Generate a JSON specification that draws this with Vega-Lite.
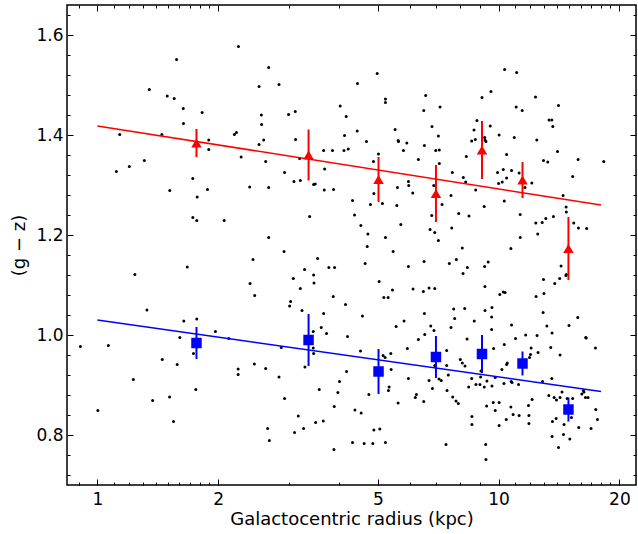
{
  "$schema": "https://vega.github.io/schema/vega-lite/v6.json",
  "width": 569,
  "height": 480,
  "autosize": "none",
  "padding": {"left": 67, "top": 5, "right": 2, "bottom": 49},
  "background": "white",
  "config": {
    "font": "DejaVu Sans",
    "view": {"stroke": "black", "strokeWidth": 1.5},
    "axis": {
      "grid": false,
      "domain": false,
      "tickColor": "black",
      "tickWidth": 1,
      "labelColor": "black",
      "labelFont": "DejaVu Sans",
      "labelFontSize": 17,
      "titleFont": "DejaVu Sans",
      "titleFontSize": 18,
      "titleFontWeight": "normal",
      "titleColor": "black",
      "labelFlush": false,
      "labelOverlap": false,
      "labelBound": false
    }
  },
  "datasets": {
    "dots": [
      {"radius":1.575,"gz":1.551},{"radius":1.347,"gz":1.491},{"radius":1.493,"gz":1.478},{"radius":1.554,"gz":1.473},{"radius":1.637,"gz":1.453},{"radius":1.824,"gz":1.445},{"radius":1.639,"gz":1.423},{"radius":1.137,"gz":1.401},{"radius":1.448,"gz":1.401},{"radius":1.895,"gz":1.39},{"radius":1.895,"gz":1.371},{"radius":1.309,"gz":1.349},{"radius":1.201,"gz":1.337},{"radius":1.115,"gz":1.327},{"radius":1.729,"gz":1.313},{"radius":1.881,"gz":1.291},{"radius":1.515,"gz":1.289},{"radius":1.773,"gz":1.276},{"radius":1.729,"gz":1.235},{"radius":1.769,"gz":1.229},
      {"radius":2.247,"gz":1.577},{"radius":2.673,"gz":1.535},{"radius":2.529,"gz":1.497},{"radius":2.836,"gz":1.501},{"radius":4.029,"gz":1.458},{"radius":2.563,"gz":1.44},{"radius":2.996,"gz":1.441},{"radius":3.113,"gz":1.447},{"radius":4.17,"gz":1.437},{"radius":2.567,"gz":1.421},{"radius":2.195,"gz":1.401},{"radius":2.221,"gz":1.405},{"radius":4.13,"gz":1.399},{"radius":2.597,"gz":1.39},{"radius":3.119,"gz":1.391},{"radius":2.529,"gz":1.381},{"radius":3.663,"gz":1.369},{"radius":3.855,"gz":1.369},{"radius":4.116,"gz":1.369},{"radius":4.219,"gz":1.372},{"radius":2.282,"gz":1.356},{"radius":2.627,"gz":1.347},{"radius":3.192,"gz":1.353},{"radius":3.684,"gz":1.332},{"radius":2.928,"gz":1.325},{"radius":3.09,"gz":1.307},{"radius":3.205,"gz":1.309},{"radius":3.459,"gz":1.301},{"radius":3.491,"gz":1.302},{"radius":2.397,"gz":1.296},{"radius":2.673,"gz":1.295},{"radius":3.677,"gz":1.29},{"radius":3.878,"gz":1.291},{"radius":4.324,"gz":1.269},{"radius":3.381,"gz":1.237},{"radius":2.07,"gz":1.229},{"radius":2.673,"gz":1.195},
      {"radius":4.981,"gz":1.523},{"radius":4.449,"gz":1.503},{"radius":5.224,"gz":1.472},{"radius":5.224,"gz":1.465},{"radius":6.58,"gz":1.479},{"radius":7.145,"gz":1.456},{"radius":6.507,"gz":1.449},{"radius":9.09,"gz":1.475},{"radius":9.568,"gz":1.487},{"radius":4.441,"gz":1.408},{"radius":5.521,"gz":1.411},{"radius":6.823,"gz":1.417},{"radius":7.077,"gz":1.398},{"radius":8.831,"gz":1.429},{"radius":8.682,"gz":1.41},{"radius":9.53,"gz":1.418},{"radius":4.685,"gz":1.387},{"radius":5.617,"gz":1.389},{"radius":5.63,"gz":1.387},{"radius":5.905,"gz":1.384},{"radius":6.531,"gz":1.379},{"radius":5.792,"gz":1.369},{"radius":6.971,"gz":1.369},{"radius":7.116,"gz":1.37},{"radius":8.567,"gz":1.388},{"radius":8.747,"gz":1.391},{"radius":9.23,"gz":1.395},{"radius":9.25,"gz":1.39},{"radius":9.3,"gz":1.387},{"radius":5.018,"gz":1.362},{"radius":4.876,"gz":1.347},{"radius":6.31,"gz":1.351},{"radius":7.116,"gz":1.343},{"radius":8.307,"gz":1.357},{"radius":7.667,"gz":1.325},{"radius":8.166,"gz":1.315},{"radius":8.277,"gz":1.306},{"radius":5.96,"gz":1.307},{"radius":5.97,"gz":1.299},{"radius":5.595,"gz":1.295},{"radius":8.767,"gz":1.29},{"radius":6.109,"gz":1.284},{"radius":6.891,"gz":1.299},{"radius":4.887,"gz":1.283},{"radius":4.793,"gz":1.261},{"radius":5.134,"gz":1.263},{"radius":5.576,"gz":1.259},{"radius":7.228,"gz":1.261},{"radius":7.61,"gz":1.279},{"radius":9.21,"gz":1.257},{"radius":4.374,"gz":1.24},{"radius":6.813,"gz":1.239},{"radius":7.953,"gz":1.243},{"radius":8.436,"gz":1.238},{"radius":4.536,"gz":1.219},{"radius":5.704,"gz":1.221},{"radius":7.641,"gz":1.214},{"radius":4.722,"gz":1.202},{"radius":5.224,"gz":1.195},{"radius":6.748,"gz":1.211},{"radius":6.932,"gz":1.205},{"radius":7.077,"gz":1.189},
      {"radius":10.35,"gz":1.531},{"radius":11.09,"gz":1.525},{"radius":12.36,"gz":1.476},{"radius":14.1,"gz":1.459},{"radius":11.06,"gz":1.456},{"radius":11.45,"gz":1.449},{"radius":13.36,"gz":1.43},{"radius":13.57,"gz":1.43},{"radius":13.65,"gz":1.417},{"radius":10.03,"gz":1.4},{"radius":10.94,"gz":1.395},{"radius":12.45,"gz":1.39},{"radius":14.02,"gz":1.367},{"radius":10.47,"gz":1.361},{"radius":12.94,"gz":1.349},{"radius":13.26,"gz":1.346},{"radius":15.78,"gz":1.351},{"radius":18.28,"gz":1.347},{"radius":9.94,"gz":1.325},{"radius":10.27,"gz":1.331},{"radius":10.77,"gz":1.329},{"radius":11.25,"gz":1.324},{"radius":10.47,"gz":1.314},{"radius":10.0,"gz":1.303},{"radius":10.21,"gz":1.306},{"radius":11.63,"gz":1.295},{"radius":12.1,"gz":1.304},{"radius":15.3,"gz":1.317},{"radius":10.33,"gz":1.268},{"radius":14.48,"gz":1.279},{"radius":14.73,"gz":1.256},{"radius":14.75,"gz":1.246},{"radius":11.32,"gz":1.241},{"radius":12.38,"gz":1.224},{"radius":12.84,"gz":1.225},{"radius":13.11,"gz":1.233},{"radius":13.7,"gz":1.237},{"radius":15.39,"gz":1.224},{"radius":15.81,"gz":1.214},{"radius":16.58,"gz":1.213},{"radius":12.52,"gz":1.202},{"radius":11.32,"gz":1.195},
      {"radius":1.675,"gz":1.136},{"radius":1.24,"gz":1.121},{"radius":1.329,"gz":1.05},{"radius":1.642,"gz":1.028},{"radius":1.769,"gz":1.032},{"radius":1.605,"gz":0.995},{"radius":0.907,"gz":0.977},{"radius":1.065,"gz":0.979},{"radius":1.736,"gz":0.963},{"radius":1.451,"gz":0.951},{"radius":1.581,"gz":0.941},{"radius":1.229,"gz":0.911},{"radius":1.759,"gz":0.891},{"radius":1.373,"gz":0.869},{"radius":1.513,"gz":0.876},{"radius":1.003,"gz":0.849},{"radius":1.548,"gz":0.827},
      {"radius":2.919,"gz":1.167},{"radius":2.443,"gz":1.151},{"radius":3.539,"gz":1.153},{"radius":3.284,"gz":1.131},{"radius":3.776,"gz":1.135},{"radius":3.901,"gz":1.135},{"radius":3.459,"gz":1.12},{"radius":3.078,"gz":1.113},{"radius":2.402,"gz":1.103},{"radius":3.467,"gz":1.104},{"radius":3.205,"gz":1.093},{"radius":2.466,"gz":1.079},{"radius":3.871,"gz":1.077},{"radius":4.154,"gz":1.061},{"radius":3.031,"gz":1.067},{"radius":3.014,"gz":1.058},{"radius":3.236,"gz":1.049},{"radius":3.663,"gz":1.043},{"radius":3.614,"gz":1.015},{"radius":3.451,"gz":1.007},{"radius":3.725,"gz":1.003},{"radius":4.202,"gz":0.997},{"radius":1.969,"gz":1.007},{"radius":2.126,"gz":0.993},{"radius":2.873,"gz":0.975},{"radius":3.451,"gz":0.974},{"radius":3.459,"gz":0.963},{"radius":2.462,"gz":0.942},{"radius":2.627,"gz":0.933},{"radius":2.243,"gz":0.932},{"radius":2.243,"gz":0.921},{"radius":3.291,"gz":0.936},{"radius":2.836,"gz":0.916},{"radius":4.178,"gz":0.927},{"radius":4.013,"gz":0.907},{"radius":3.573,"gz":0.891},{"radius":3.976,"gz":0.885},{"radius":2.928,"gz":0.873},{"radius":3.894,"gz":0.857},{"radius":3.168,"gz":0.838},{"radius":3.499,"gz":0.825},{"radius":3.656,"gz":0.828},{"radius":2.657,"gz":0.813},{"radius":3.1,"gz":0.805},{"radius":3.266,"gz":0.813},{"radius":2.683,"gz":0.789},{"radius":3.887,"gz":0.771},{"radius":4.324,"gz":0.785},
      {"radius":4.704,"gz":1.177},{"radius":5.458,"gz":1.167},{"radius":8.12,"gz":1.174},{"radius":4.649,"gz":1.143},{"radius":5.959,"gz":1.137},{"radius":6.519,"gz":1.147},{"radius":7.537,"gz":1.143},{"radius":7.846,"gz":1.151},{"radius":8.356,"gz":1.135},{"radius":8.153,"gz":1.123},{"radius":9.23,"gz":1.137},{"radius":9.42,"gz":1.146},{"radius":5.038,"gz":1.107},{"radius":5.437,"gz":1.09},{"radius":6.121,"gz":1.092},{"radius":6.493,"gz":1.087},{"radius":6.709,"gz":1.094},{"radius":6.932,"gz":1.093},{"radius":9.245,"gz":1.097},{"radius":5.175,"gz":1.075},{"radius":5.304,"gz":1.075},{"radius":4.578,"gz":1.038},{"radius":6.531,"gz":1.043},{"radius":7.727,"gz":1.052},{"radius":7.772,"gz":1.033},{"radius":8.232,"gz":1.053},{"radius":9.25,"gz":1.049},{"radius":9.623,"gz":1.055},{"radius":9.607,"gz":1.036},{"radius":5.553,"gz":1.017},{"radius":5.813,"gz":1.028},{"radius":6.774,"gz":1.018},{"radius":6.902,"gz":1.009},{"radius":6.545,"gz":1.001},{"radius":7.61,"gz":1.015},{"radius":8.696,"gz":1.028},{"radius":9.607,"gz":1.011},{"radius":6.31,"gz":0.991},{"radius":8.343,"gz":0.992},{"radius":9.718,"gz":0.973},{"radius":4.526,"gz":0.968},{"radius":5.925,"gz":0.973},{"radius":5.387,"gz":0.963},{"radius":5.154,"gz":0.959},{"radius":5.214,"gz":0.955},{"radius":7.424,"gz":0.969},{"radius":8.027,"gz":0.951},{"radius":8.12,"gz":0.944},{"radius":8.245,"gz":0.938},{"radius":6.932,"gz":0.939},{"radius":7.424,"gz":0.939},{"radius":5.397,"gz":0.931},{"radius":9.036,"gz":0.928},{"radius":7.492,"gz":0.92},{"radius":9.02,"gz":0.916},{"radius":5.959,"gz":0.913},{"radius":6.709,"gz":0.909},{"radius":7.104,"gz":0.912},{"radius":7.196,"gz":0.909},{"radius":8.567,"gz":0.913},{"radius":9.352,"gz":0.908},{"radius":9.806,"gz":0.915},{"radius":8.422,"gz":0.896},{"radius":8.781,"gz":0.901},{"radius":8.985,"gz":0.901},{"radius":9.21,"gz":0.896},{"radius":9.623,"gz":0.898},{"radius":5.335,"gz":0.896},{"radius":5.314,"gz":0.889},{"radius":6.837,"gz":0.893},{"radius":7.437,"gz":0.889},{"radius":4.75,"gz":0.881},{"radius":6.237,"gz":0.881},{"radius":6.201,"gz":0.875},{"radius":7.685,"gz":0.876},{"radius":6.507,"gz":0.867},{"radius":7.832,"gz":0.868},{"radius":7.935,"gz":0.863},{"radius":5.617,"gz":0.864},{"radius":9.696,"gz":0.865},{"radius":9.335,"gz":0.858},{"radius":4.384,"gz":0.85},{"radius":4.545,"gz":0.844},{"radius":9.806,"gz":0.849},{"radius":8.582,"gz":0.837},{"radius":8.582,"gz":0.821},{"radius":4.887,"gz":0.81},{"radius":5.058,"gz":0.812},{"radius":4.622,"gz":0.783},{"radius":4.859,"gz":0.783},{"radius":5.224,"gz":0.785},{"radius":7.395,"gz":0.781},{"radius":9.284,"gz":0.781},{"radius":9.3,"gz":0.751},
      {"radius":10.73,"gz":1.173},{"radius":14.31,"gz":1.138},{"radius":14.71,"gz":1.119},{"radius":14.75,"gz":1.121},{"radius":14.2,"gz":1.113},{"radius":12.94,"gz":1.111},{"radius":13.8,"gz":1.103},{"radius":10.07,"gz":1.081},{"radius":10.27,"gz":1.086},{"radius":10.38,"gz":1.085},{"radius":12.4,"gz":1.077},{"radius":12.97,"gz":1.083},{"radius":12.91,"gz":1.045},{"radius":15.75,"gz":1.035},{"radius":10.77,"gz":1.02},{"radius":13.19,"gz":1.018},{"radius":14.98,"gz":1.019},{"radius":13.59,"gz":1.004},{"radius":11.68,"gz":1.0},{"radius":12.47,"gz":0.999},{"radius":11.02,"gz":0.993},{"radius":16.49,"gz":0.995},{"radius":16.53,"gz":0.994},{"radius":10.33,"gz":0.981},{"radius":12.05,"gz":0.974},{"radius":13.49,"gz":0.975},{"radius":17.43,"gz":0.974},{"radius":12.54,"gz":0.965},{"radius":12.01,"gz":0.961},{"radius":14.23,"gz":0.96},{"radius":11.94,"gz":0.955},{"radius":10.51,"gz":0.944},{"radius":10.47,"gz":0.941},{"radius":10.19,"gz":0.931},{"radius":10.31,"gz":0.903},{"radius":10.75,"gz":0.907},{"radius":10.8,"gz":0.905},{"radius":11.21,"gz":0.901},{"radius":12.87,"gz":0.907},{"radius":13.57,"gz":0.913},{"radius":13.34,"gz":0.879},{"radius":13.75,"gz":0.875},{"radius":13.94,"gz":0.87},{"radius":14.23,"gz":0.875},{"radius":14.39,"gz":0.886},{"radius":14.82,"gz":0.873},{"radius":15.3,"gz":0.873},{"radius":16.12,"gz":0.882},{"radius":16.27,"gz":0.889},{"radius":16.32,"gz":0.886},{"radius":16.46,"gz":0.875},{"radius":16.71,"gz":0.875},{"radius":12.12,"gz":0.871},{"radius":10.03,"gz":0.865},{"radius":10.73,"gz":0.856},{"radius":11.87,"gz":0.859},{"radius":11.25,"gz":0.839},{"radius":10.87,"gz":0.841},{"radius":10.45,"gz":0.831},{"radius":11.9,"gz":0.839},{"radius":11.9,"gz":0.823},{"radius":10.03,"gz":0.819},{"radius":13.62,"gz":0.827},{"radius":13.91,"gz":0.833},{"radius":14.56,"gz":0.821},{"radius":15.19,"gz":0.835},{"radius":15.84,"gz":0.815},{"radius":17.0,"gz":0.813},{"radius":17.46,"gz":0.851},{"radius":17.63,"gz":0.831},{"radius":13.59,"gz":0.797},{"radius":14.51,"gz":0.801},{"radius":15.05,"gz":0.792},{"radius":14.1,"gz":0.775}
    ],
    "fits": [
      {"radius":1,"gz":1.418,"sample":"red"},{"radius":18,"gz":1.26,"sample":"red"},
      {"radius":1,"gz":1.03,"sample":"blue"},{"radius":18,"gz":0.887,"sample":"blue"}
    ],
    "bins": [
      {"radius":1.766,"gz":1.384,"lo":1.356,"hi":1.412,"sample":"red"},
      {"radius":3.36,"gz":1.36,"lo":1.309,"hi":1.411,"sample":"red"},
      {"radius":5.02,"gz":1.311,"lo":1.266,"hi":1.356,"sample":"red"},
      {"radius":6.98,"gz":1.283,"lo":1.226,"hi":1.34,"sample":"red"},
      {"radius":9.09,"gz":1.37,"lo":1.312,"hi":1.428,"sample":"red"},
      {"radius":11.47,"gz":1.31,"lo":1.274,"hi":1.346,"sample":"red"},
      {"radius":14.93,"gz":1.173,"lo":1.11,"hi":1.236,"sample":"red"},
      {"radius":1.766,"gz":0.984,"lo":0.952,"hi":1.016,"sample":"blue"},
      {"radius":3.36,"gz":0.99,"lo":0.938,"hi":1.042,"sample":"blue"},
      {"radius":5.02,"gz":0.927,"lo":0.882,"hi":0.972,"sample":"blue"},
      {"radius":6.98,"gz":0.956,"lo":0.914,"hi":0.998,"sample":"blue"},
      {"radius":9.09,"gz":0.962,"lo":0.924,"hi":1.0,"sample":"blue"},
      {"radius":11.47,"gz":0.943,"lo":0.919,"hi":0.967,"sample":"blue"},
      {"radius":14.93,"gz":0.851,"lo":0.827,"hi":0.875,"sample":"blue"}
    ]
  },
  "resolve": {"axis": {"x": "independent", "y": "independent"}},
  "layer": [
    {
      "data": {"name": "dots"},
      "mark": {"type": "point", "shape": "circle", "filled": true, "color": "black", "size": 9, "opacity": 1},
      "encoding": {
        "x": {"field": "radius", "type": "quantitative",
              "scale": {"type": "log", "domain": [0.84, 22], "nice": false},
              "axis": {"orient": "bottom", "values": [1, 2, 5, 10, 20], "format": "d", "tickSize": -6, "labelPadding": 12,
                       "title": "Galactocentric radius (kpc)", "titlePadding": 3}},
        "y": {"field": "gz", "type": "quantitative",
              "scale": {"domain": [0.7, 1.66], "nice": false, "zero": false},
              "axis": {"orient": "left", "values": [0.8, 1.0, 1.2, 1.4, 1.6], "format": ".1f", "tickSize": -6, "labelPadding": 10,
                       "title": "(g − z)", "titlePadding": 7}}
      }
    },
    {
      "data": {"name": "fits"},
      "mark": {"type": "line", "strokeWidth": 1.5},
      "encoding": {
        "x": {"field": "radius", "type": "quantitative",
              "axis": {"orient": "bottom", "values": [0.9, 1.1, 1.2, 1.3, 1.4, 1.5, 1.6, 1.7, 1.8, 1.9, 3, 4, 6, 7, 8, 9, 11, 12, 13, 14, 15, 16, 17, 18, 19],
                       "tickSize": -3, "labels": false, "title": null}},
        "y": {"field": "gz", "type": "quantitative",
              "axis": {"orient": "left", "values": [0.72, 0.76, 0.84, 0.88, 0.92, 0.96, 1.04, 1.08, 1.12, 1.16, 1.24, 1.28, 1.32, 1.36, 1.44, 1.48, 1.52, 1.56, 1.64],
                       "tickSize": -3, "labels": false, "title": null}},
        "color": {"field": "sample", "type": "nominal", "scale": {"domain": ["red", "blue"], "range": ["#ff0000", "#0000ff"]}, "legend": null},
        "detail": {"field": "sample"}
      }
    },
    {
      "data": {"name": "bins"},
      "mark": {"type": "rule", "strokeWidth": 2},
      "encoding": {
        "x": {"field": "radius", "type": "quantitative",
              "axis": {"orient": "top", "values": [1, 2, 5, 10, 20], "tickSize": -6, "labels": false, "title": null}},
        "y": {"field": "lo", "type": "quantitative",
              "axis": {"orient": "right", "values": [0.8, 1.0, 1.2, 1.4, 1.6], "tickSize": -6, "labels": false, "title": null}},
        "y2": {"field": "hi"},
        "color": {"field": "sample", "type": "nominal", "scale": {"domain": ["red", "blue"], "range": ["#ff0000", "#0000ff"]}, "legend": null}
      }
    },
    {
      "data": {"name": "bins"},
      "mark": {"type": "point", "filled": true, "opacity": 1, "size": 110},
      "encoding": {
        "x": {"field": "radius", "type": "quantitative",
              "axis": {"orient": "top", "values": [0.9, 1.1, 1.2, 1.3, 1.4, 1.5, 1.6, 1.7, 1.8, 1.9, 3, 4, 6, 7, 8, 9, 11, 12, 13, 14, 15, 16, 17, 18, 19],
                       "tickSize": -3, "labels": false, "title": null}},
        "y": {"field": "gz", "type": "quantitative",
              "axis": {"orient": "right", "values": [0.72, 0.76, 0.84, 0.88, 0.92, 0.96, 1.04, 1.08, 1.12, 1.16, 1.24, 1.28, 1.32, 1.36, 1.44, 1.48, 1.52, 1.56, 1.64],
                       "tickSize": -3, "labels": false, "title": null}},
        "color": {"field": "sample", "type": "nominal", "scale": {"domain": ["red", "blue"], "range": ["#ff0000", "#0000ff"]}, "legend": null},
        "shape": {"field": "sample", "type": "nominal", "scale": {"domain": ["red", "blue"], "range": ["triangle-up", "square"]}, "legend": null}
      }
    }
  ]
}
